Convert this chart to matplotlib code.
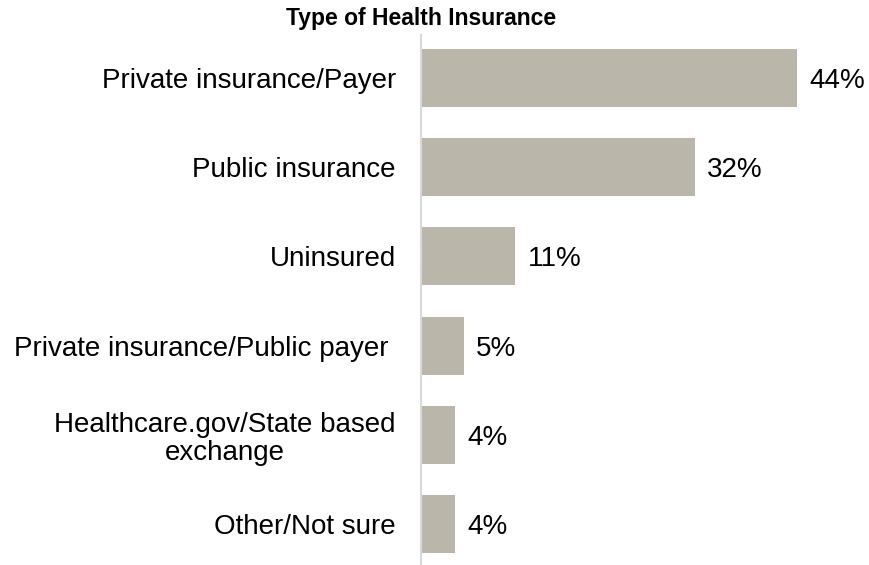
import matplotlib.pyplot as plt

categories = [
    'Private insurance/Payer',
    'Public insurance',
    'Uninsured',
    'Private insurance/Public payer ',
    'Healthcare.gov/State based\nexchange',
    'Other/Not sure',
]
values = [44, 32, 11, 5, 4, 4]

plt.rcParams['font.family'] = ['Liberation Sans', 'DejaVu Sans']

fig = plt.figure(figsize=(8.7, 5.65), dpi=100)
ax = fig.add_axes([421 / 870, 0, 449 / 870, 1 - 35 / 565])

pos = list(range(len(categories)))
ax.barh(pos, values, height=0.65, color='#bab6aa')

# percentage labels just past each bar
for y, v in zip(pos, values):
    ax.annotate(f'{v}%', xy=(v, y), xytext=(9, 0), textcoords='offset points',
                ha='left', va='center_baseline', fontsize=20, color='#000000')

ax.set_xlim(0, 52.5)
ax.set_ylim(5.46, -0.48)
ax.set_yticks(pos)
ax.set_yticklabels(categories, fontsize=20)
for t in ax.get_yticklabels():
    t.set_multialignment('center')
    t.set_linespacing(1.1)
ax.tick_params(axis='y', length=0, pad=18)
ax.set_xticks([])

for spine in ['top', 'right', 'bottom']:
    ax.spines[spine].set_visible(False)
ax.spines['left'].set_color('#d9d9d9')
ax.spines['left'].set_linewidth(1.5)

fig.text(421 / 870, 1 - 19 / 565, 'Type of Health Insurance', ha='center', va='center',
         fontsize=16.5, fontweight='bold')

fig.savefig('out.png', dpi=100)
